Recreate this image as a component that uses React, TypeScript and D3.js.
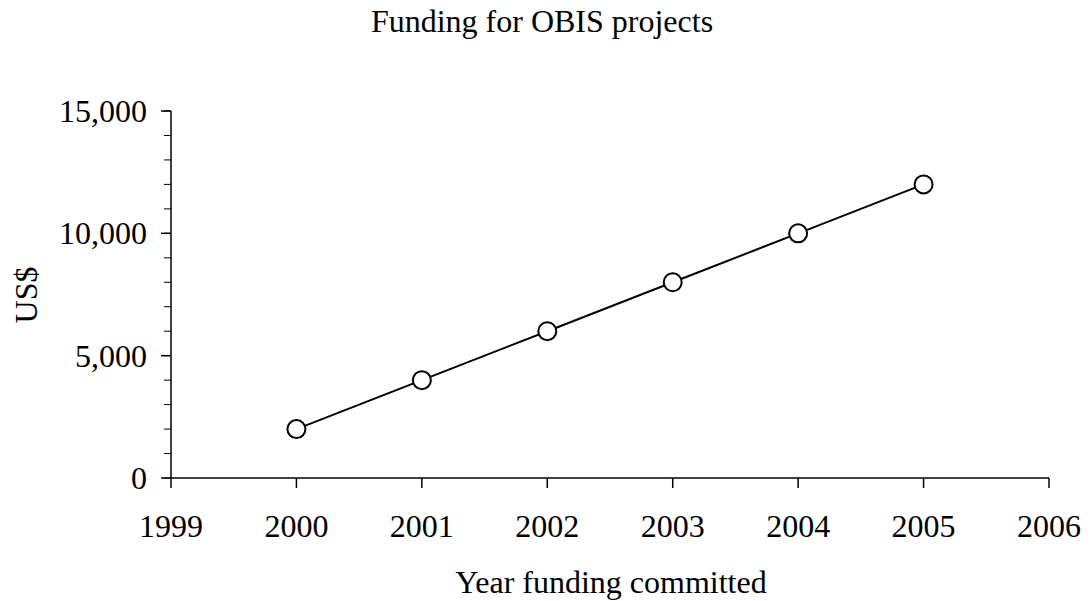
import React from "react";
import * as d3 from "d3";

const years = [2000, 2001, 2002, 2003, 2004, 2005];
const funding = [2000, 4000, 6000, 8000, 10000, 12000];
const xTicks = [1999, 2000, 2001, 2002, 2003, 2004, 2005, 2006];
const yTicks = [0, 5000, 10000, 15000];
const yMinorTicks = d3.range(0, 15001, 1000);

const W = 1090;
const H = 601;
const FONT = "'Liberation Serif', 'Times New Roman', serif";

export default function App() {
  const x = d3.scaleLinear().domain([1999, 2006]).range([171, 1049]);
  const y = d3.scaleLinear().domain([0, 15000]).range([478, 111]);
  const fmt = d3.format(",");
  const line = d3
    .line<number>()
    .x((_, i) => x(years[i]))
    .y((d) => y(d));

  return (
    <svg
      width={W}
      height={H}
      style={{ position: "absolute", left: 0, top: 0, background: "#fff" }}
      fontFamily={FONT}
    >
      <rect width={W} height={H} fill="#fff" />
      <text x={542} y={32} textAnchor="middle" fontSize={32}>
        Funding for OBIS projects
      </text>
      {/* y axis */}
      <line x1={171} x2={171} y1={y(15000)} y2={y(0)} stroke="#000" strokeWidth={1.5} />
      {yMinorTicks.map((t) => (
        <line key={"m" + t} x1={164} x2={171} y1={y(t)} y2={y(t)} stroke="#000" strokeWidth={1} />
      ))}
      {yTicks.map((t) => (
        <g key={t}>
          <line x1={161} x2={171} y1={y(t)} y2={y(t)} stroke="#000" strokeWidth={1.5} />
          <text x={147} y={y(t)} dy="0.34em" textAnchor="end" fontSize={32}>
            {fmt(t)}
          </text>
        </g>
      ))}
      {/* x axis */}
      <line x1={x(1999)} x2={x(2006)} y1={478} y2={478} stroke="#000" strokeWidth={1.5} />
      {xTicks.map((t) => (
        <g key={t}>
          <line x1={x(t)} x2={x(t)} y1={478} y2={488} stroke="#000" strokeWidth={1.5} />
          <text x={x(t)} y={537} textAnchor="middle" fontSize={32}>
            {t}
          </text>
        </g>
      ))}
      <text x={611} y={593} textAnchor="middle" fontSize={32}>
        Year funding committed
      </text>
      <text
        transform={`translate(37, 295) rotate(-90)`}
        textAnchor="middle"
        fontSize={32}
      >
        US$
      </text>
      <path d={line(funding) || ""} fill="none" stroke="#000" strokeWidth={2} />
      {funding.map((v, i) => (
        <circle key={i} cx={x(years[i])} cy={y(v)} r={9} fill="#fff" stroke="#000" strokeWidth={2} />
      ))}
    </svg>
  );
}
